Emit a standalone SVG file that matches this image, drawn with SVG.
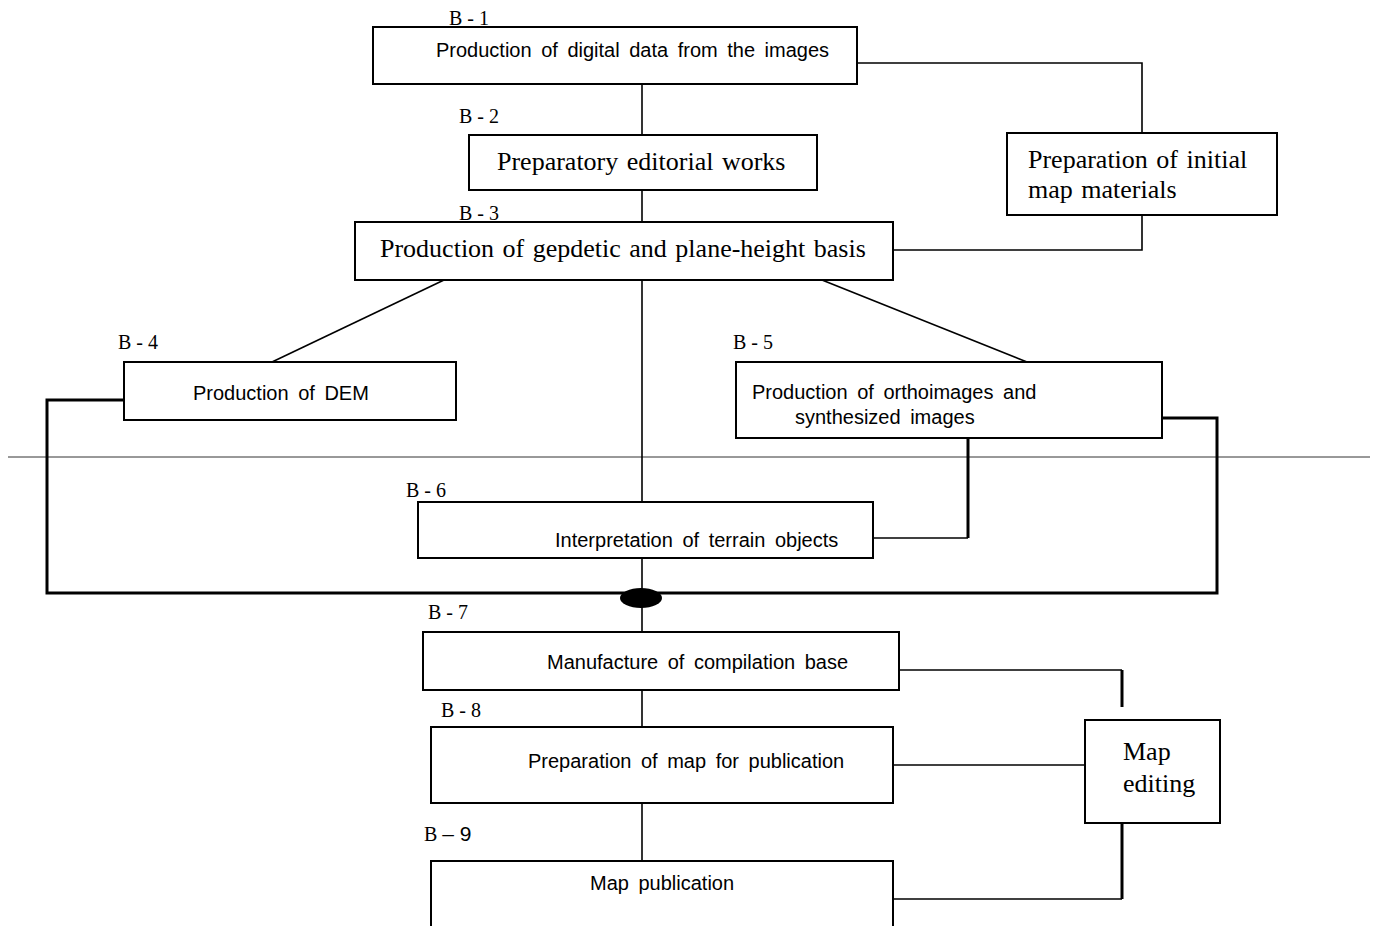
<svg xmlns="http://www.w3.org/2000/svg" width="1375" height="926" viewBox="0 0 1375 926">
<style>
.box{fill:#fff;stroke:#000;stroke-width:2}
.sans{font-family:"Liberation Sans",Arial,sans-serif;font-size:20px;word-spacing:4px;fill:#000}
.serif{font-family:"Liberation Serif","Times New Roman",serif;font-size:26px;word-spacing:2px;fill:#000}
.lbl{font-family:"Liberation Serif","Times New Roman",serif;font-size:20px;fill:#000}
.c{fill:none;stroke:#000;stroke-width:1.6}
.t{fill:none;stroke:#000;stroke-width:3}
</style>
<g id="connectors">
<line x1="8" y1="457" x2="1370" y2="457" stroke="#333" stroke-width="1"/>
<polyline class="c" points="642,84 642,135"/>
<polyline class="c" points="642,190 642,232"/>
<polyline class="c" points="857,63 1142,63 1142,138"/>
<polyline class="c" points="1142,212 1142,250 893,250"/>
<polyline class="c" points="444,280 272,362"/>
<polyline class="c" points="822,280 1027,362"/>
<polyline class="c" points="642,280 642,670"/>
<polyline class="t" points="124,400 47,400 47,593 1217,593 1217,418 1162,418"/>
<polyline class="t" points="968,438 968,538"/>
<polyline class="c" points="968,538 873,538"/>
<ellipse cx="641" cy="598" rx="21" ry="10" fill="#000"/>
<polyline class="c" points="642,690 642,727"/>
<polyline class="c" points="642,803 642,861"/>
<polyline class="c" points="899,670 1122,670"/>
<polyline class="t" points="1122,670 1122,707"/>
<polyline class="c" points="893,765 1085,765"/>
<polyline class="t" points="1122,823 1122,899"/>
<polyline class="c" points="1122,899 893,899"/>
</g>
<g id="b1">
<text class="lbl" x="449" y="25">B - 1</text>
<rect class="box" x="373" y="27" width="484" height="57"/>
<text class="sans" x="436" y="57">Production of digital data from the images</text>
</g>
<g id="b2">
<text class="lbl" x="459" y="123">B - 2</text>
<rect class="box" x="469" y="135" width="348" height="55"/>
<text class="serif" x="497" y="170">Preparatory editorial works</text>
</g>
<g id="initial">
<rect class="box" x="1007" y="133" width="270" height="82"/>
<text class="serif" x="1028" y="168">Preparation of initial</text>
<text class="serif" x="1028" y="198">map materials</text>
</g>
<g id="b3">
<text class="lbl" x="459" y="220">B - 3</text>
<rect class="box" x="355" y="222" width="538" height="58"/>
<text class="serif" x="380" y="257">Production of gepdetic and plane-height basis</text>
</g>
<g id="b4">
<text class="lbl" x="118" y="349">B - 4</text>
<rect class="box" x="124" y="362" width="332" height="58"/>
<text class="sans" x="193" y="400">Production of DEM</text>
</g>
<g id="b5">
<text class="lbl" x="733" y="349">B - 5</text>
<rect class="box" x="736" y="362" width="426" height="76"/>
<text class="sans" x="752" y="399">Production of orthoimages and</text>
<text class="sans" x="795" y="424">synthesized images</text>
</g>
<g id="b6">
<text class="lbl" x="406" y="497">B - 6</text>
<rect class="box" x="418" y="502" width="455" height="56"/>
<text class="sans" x="555" y="547">Interpretation of terrain objects</text>
</g>
<g id="b7">
<text class="lbl" x="428" y="619">B - 7</text>
<rect class="box" x="423" y="632" width="476" height="58" fill="none"/>
<text class="sans" x="547" y="669">Manufacture of compilation base</text>
</g>
<g id="b8">
<text class="lbl" x="441" y="717">B - 8</text>
<rect class="box" x="431" y="727" width="462" height="76"/>
<text class="sans" x="528" y="768">Preparation of map for publication</text>
</g>
<g id="b9">
<text class="lbl" x="424" y="841">B <tspan font-family="Liberation Sans, Arial, sans-serif" font-size="21">– 9</tspan></text>
<polyline fill="#fff" stroke="#000" stroke-width="2" points="431,930 431,861 893,861 893,930"/>
<text class="sans" x="590" y="890">Map publication</text>
</g>
<g id="editing">
<rect class="box" x="1085" y="720" width="135" height="103"/>
<text class="serif" x="1123" y="760">Map</text>
<text class="serif" x="1123" y="792">editing</text>
</g>
</svg>
